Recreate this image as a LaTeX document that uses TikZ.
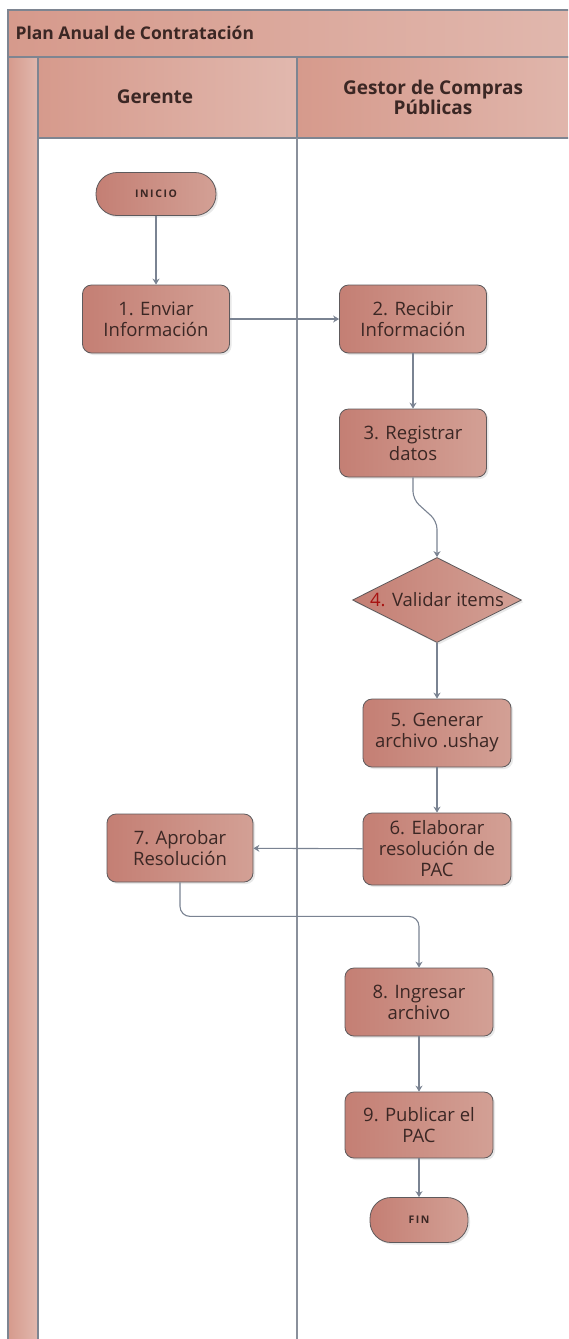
\documentclass[tikz,border=0pt]{standalone}
\usepackage{fontspec}
\setmainfont{Open Sans}
\usetikzlibrary{shapes.geometric,arrows.meta,shadows,calc}

\definecolor{bandA}{HTML}{D69A8C}
\definecolor{bandB}{HTML}{E1B8AE}
\definecolor{frameline}{HTML}{7E8591}
\definecolor{laneline}{HTML}{8A909B}
\definecolor{boxA}{HTML}{C47F74}
\definecolor{boxB}{HTML}{D3A095}
\definecolor{boxline}{HTML}{5E5A5C}
\definecolor{ink}{HTML}{3B2724}
\definecolor{arrowgray}{HTML}{7A8392}

\tikzset{
  band/.style={left color=bandA, right color=bandB, draw=frameline, line width=1.2pt},
  taskbox/.style={rectangle, rounded corners=9pt, draw=boxline, line width=0.8pt,
    left color=boxA, right color=boxB, minimum width=147pt, minimum height=68pt,
    inner sep=1pt, align=center, text=ink, font=\fontsize{18.5}{21}\selectfont,
    drop shadow={shadow xshift=2pt, shadow yshift=-2pt, opacity=0.18}},
  terminal/.style={rectangle, rounded corners=21pt, draw=boxline, line width=0.8pt,
    left color=boxA, right color=boxB, minimum height=43pt,
    text=ink, font=\bfseries\fontsize{10.5}{11}\selectfont\addfontfeature{LetterSpace=15},
    drop shadow={shadow xshift=2pt, shadow yshift=-2pt, opacity=0.18}},
  decision/.style={diamond, draw=boxline, line width=0.8pt, inner sep=0pt,
    left color=boxA, right color=boxB, minimum width=169pt, minimum height=85pt,
    drop shadow={shadow xshift=2pt, shadow yshift=-2pt, opacity=0.18}},
  decisiontext/.style={text=ink, font=\fontsize{18.5}{21}\selectfont, inner sep=0pt},
  flow/.style={draw=arrowgray, line width=1.1pt, -{Stealth[length=6pt,width=7pt]}},
  lanehead/.style={font=\bfseries\fontsize{19}{20}\selectfont, text=ink, align=center}
}

\begin{document}
\begin{tikzpicture}[x=1pt,y=-1pt]
\useasboundingbox (0,0) rectangle (568,1339);
\begin{scope}
\clip (0,0) rectangle (568,1339);
% pool frame and title band
\fill[white] (0,0) rectangle (568,1339);
\draw[band] (8,10) rectangle (590,57);
% left strip of the pool
\draw[band] (8,57) rectangle (38,1360);
% lane headers
\draw[band] (38,57) rectangle (297,138);
\draw[band] (297,57) rectangle (590,138);
% lane divider
\draw[laneline, line width=1.6pt] (297,138) -- (297,1360);
\end{scope}

\node[anchor=west, font=\bfseries\fontsize{17.5}{19}\selectfont, text=ink] (title) at (12,33) {Plan Anual de Contratación};
\node[lanehead] (laneA) at (155,97) {Gerente};
\node[lanehead] (laneB) at (433,97) {Gestor de Compras\\Públicas};

% flow nodes
\node[terminal, minimum width=120pt] (inicio) at (156,194) {INICIO};
\node[taskbox] (t1) at (156,319) {1. Enviar\\Información};
\node[taskbox] (t2) at (413,319) {2. Recibir\\Información};
\node[taskbox] (t3) at (413,443) {3. Registrar\\datos};
\node[decision, label={[decisiontext]center:{\textcolor{red!55!ink}{4.} Validar items}}] (t4) at (437,600) {};
\node[taskbox, minimum width=148pt] (t5) at (437,733) {5. Generar\\archivo .ushay};
\node[taskbox, minimum width=148pt, minimum height=72pt] (t6) at (437,849) {6. Elaborar\\resolución de\\PAC};
\node[taskbox, minimum width=146pt] (t7) at (180,848) {7. Aprobar\\Resolución};
\node[taskbox, minimum width=148pt] (t8) at (419,1002) {8. Ingresar\\archivo};
\node[taskbox, minimum width=148pt, minimum height=66pt] (t9) at (419,1125) {9. Publicar el\\PAC};
\node[terminal, minimum width=98pt, minimum height=45pt] (fin) at (419,1220) {FIN};

% connectors
\draw[flow] (inicio) -- (t1);
\draw[flow] (t1) -- (t2);
\draw[flow] (t2) -- (t3);
\draw[flow, rounded corners=8pt] (t3.south) -- ++(0,22) -- ($(t4.north)+(0,-36)$) -- (t4.north);
\draw[flow] (t4) -- (t5);
\draw[flow] (t5) -- (t6);
\draw[flow] (t6) -- (t7);
\draw[flow, rounded corners=10pt] (t7.south) -- ++(0,34) -| (t8.north);
\draw[flow] (t8) -- (t9);
\draw[flow] (t9) -- (fin);
\end{tikzpicture}
\end{document}
